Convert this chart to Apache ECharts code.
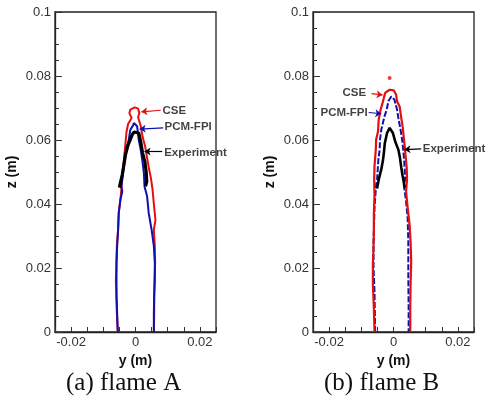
<!DOCTYPE html>
<html><head><meta charset="utf-8">
<script src="https://cdn.jsdelivr.net/npm/echarts@6/dist/echarts.min.js"></script>
<style>html,body{margin:0;padding:0;background:#fff}#c{width:489px;height:400px}</style>
</head><body><div id="c"></div>
<script>
// ---- data (y [m], z [m]) ----
const cseA = [[-0.0055,0],[-0.0058,0.006],[-0.0059,0.011],[-0.0061,0.016],[-0.0059,0.0217],[-0.0058,0.0268],[-0.0054,0.032],[-0.0052,0.0373],[-0.0047,0.0413],[-0.0044,0.0445],[-0.0041,0.049],[-0.0037,0.053],[-0.0033,0.057],[-0.0028,0.0625],[-0.0023,0.065],[-0.0012,0.0669],[-0.0019,0.0684],[-0.0016,0.0695],[-0.0002,0.0702],[0.0008,0.0698],[0.0012,0.0684],[0.0008,0.0671],[0.0016,0.0645],[0.0022,0.061],[0.003,0.058],[0.0035,0.055],[0.0042,0.051],[0.0048,0.048],[0.0053,0.0445],[0.0057,0.04],[0.0062,0.035],[0.0057,0.032],[0.006,0.0268],[0.0061,0.0217],[0.0059,0.0163],[0.0058,0.011],[0.0058,0.006],[0.0057,0]];
const pcmA = [[-0.0055,0],[-0.0057,0.0059],[-0.0059,0.0111],[-0.0059,0.0163],[-0.0059,0.0216],[-0.0057,0.0268],[-0.0054,0.032],[-0.0052,0.0372],[-0.0047,0.0413],[-0.0041,0.0439],[-0.0044,0.0455],[-0.0041,0.0476],[-0.0036,0.0518],[-0.0031,0.0559],[-0.0021,0.0601],[-0.0016,0.0632],[-0.0008,0.0645],[-0.0005,0.0653],[0.0005,0.0643],[0.001,0.0601],[0.0016,0.057],[0.0021,0.0538],[0.0026,0.0497],[0.0028,0.0455],[0.0036,0.0424],[0.0041,0.0372],[0.005,0.032],[0.0057,0.0268],[0.006,0.0216],[0.006,0.0163],[0.0058,0.0111],[0.0057,0.0059],[0.0057,0]];
const expA = [[-0.005,0.0451],[-0.0047,0.0466],[-0.0041,0.0492],[-0.0036,0.0523],[-0.0031,0.0554],[-0.0023,0.0585],[-0.001,0.0617],[-0.0004,0.0625],[0.001,0.0622],[0.0016,0.0596],[0.0022,0.0559],[0.0029,0.0533],[0.0033,0.0502],[0.0035,0.0471],[0.0031,0.0455]];
const cseB = [[-0.0059,0],[-0.0061,0.0075],[-0.0064,0.0148],[-0.0064,0.021],[-0.0061,0.0304],[-0.0061,0.0367],[-0.0059,0.0429],[-0.006,0.0476],[-0.0059,0.0518],[-0.0055,0.057],[-0.0054,0.0601],[-0.0048,0.0627],[-0.0046,0.0663],[-0.004,0.0695],[-0.0034,0.0716],[-0.003,0.0731],[-0.0026,0.0747],[-0.0012,0.0757],[0.0001,0.0755],[0.0008,0.0742],[0.0011,0.0721],[0.0019,0.0705],[0.0022,0.0684],[0.0025,0.0663],[0.0029,0.0638],[0.0032,0.0606],[0.0035,0.058],[0.0038,0.0545],[0.0041,0.0514],[0.0042,0.0476],[0.0039,0.0439],[0.0044,0.0388],[0.005,0.0335],[0.0053,0.0283],[0.0055,0.0221],[0.0053,0.0148],[0.0052,0.0075],[0.0052,0]];
const cseIslandB = [[-0.0012,0.0794]];
const pcmB = [[-0.0057,0],[-0.0059,0.0127],[-0.0062,0.02],[-0.0062,0.0283],[-0.0059,0.0388],[-0.0054,0.046],[-0.0051,0.0476],[-0.0049,0.0507],[-0.0047,0.0538],[-0.0043,0.057],[-0.0042,0.06],[-0.0038,0.0632],[-0.0033,0.0653],[-0.0028,0.0674],[-0.0021,0.0695],[-0.0016,0.0721],[-0.0007,0.0736],[0.0003,0.0726],[0.0011,0.0695],[0.0016,0.0663],[0.0022,0.0632],[0.0027,0.06],[0.003,0.057],[0.0033,0.0538],[0.0035,0.0507],[0.0036,0.0476],[0.0032,0.046],[0.0039,0.0408],[0.0044,0.0356],[0.0046,0.0283],[0.0046,0.0179],[0.0047,0.0075],[0.0047,0]];
const expB = [[-0.0051,0.0448],[-0.0046,0.0476],[-0.0038,0.0508],[-0.0033,0.0535],[-0.003,0.0559],[-0.0027,0.059],[-0.002,0.0622],[-0.0012,0.0638],[-0.0002,0.0622],[0.0005,0.0596],[0.0015,0.057],[0.002,0.0545],[0.0024,0.0515],[0.0028,0.049],[0.0035,0.0451]];
const xTicks = [-0.02, 0, 0.02];
const captions = ['(a) flame A', '(b) flame B'];
const annA = [{name:'CSE', text:[0.0084,0.0692], from:[0.0078,0.0693], to:[0.0018,0.0688], color:'#e41010'},
              {name:'PCM-FPI', text:[0.009,0.0642], from:[0.0086,0.0638], to:[0.0013,0.0634], color:'#1010b0'},
              {name:'Experiment', text:[0.0089,0.0561], from:[0.0083,0.0564], to:[0.0028,0.0564], color:'#000'}];
const annB = [{name:'CSE', text:[-0.0085,0.0747], from:[-0.0068,0.0745], to:[-0.0034,0.0741], color:'#e41010'},
              {name:'PCM-FPI', text:[-0.008,0.0686], from:[-0.0077,0.0686], to:[-0.0038,0.0682], color:'#1010b0'},
              {name:'Experiment', text:[0.0091,0.0572], from:[0.0086,0.0572], to:[0.0034,0.057], color:'#000'}];

const RED = '#e41010', BLUE = '#1010b0', BLACK = '#000';
const TICK = '#333';
const chart = echarts.init(document.getElementById('c'));
const grids = [{left:55, top:12, width:161, height:320}, {left:313, top:12, width:161, height:320}];
const fmt = v => String(+(+v).toFixed(4));
const xfmt = v => xTicks.some(t => Math.abs(t - v) < 1e-9) ? fmt(v) : '';
const axl = () => ({show:true, onZero:false, lineStyle:{color:'#222', width:1.3}});
const nameStyle = () => ({fontFamily:'Liberation Sans', fontWeight:'bold', fontSize:14, color:'#111'});
const lblStyle = {fontFamily:'Liberation Sans', fontSize:13, color:'#333'};

function xAxis(gi){
  return {
    gridIndex:gi, type:'value', min:-0.025, max:0.025, interval:0.005,
    name:'y (m)', nameLocation:'middle', nameGap:11, nameTextStyle:nameStyle(),
    axisLine:axl(), splitLine:{show:false},
    axisTick:{show:true, inside:true, length:5, lineStyle:{color:TICK}},
    axisLabel:Object.assign({interval:0, formatter:xfmt, margin:4}, lblStyle)
  };
}
function yAxis(gi){
  return {
    gridIndex:gi, type:'value', min:0, max:0.1, interval:0.02,
    name:'z (m)', nameLocation:'middle', nameGap:36, nameRotate:90, nameTextStyle:nameStyle(),
    axisLine:axl(), splitLine:{show:false},
    axisTick:{show:true, inside:true, length:7, lineStyle:{color:TICK}},
    minorTick:{show:true, splitNumber:4, length:4, lineStyle:{color:TICK}},
    axisLabel:Object.assign({formatter:fmt, margin:4}, lblStyle)
  };
}
function line(data, xi, yi, color, w, dash){
  return {type:'line', data, xAxisIndex:xi, yAxisIndex:yi, showSymbol:false, smooth:false, silent:true,
    lineStyle:{color, width:w, type: dash || 'solid'}, z:3};
}
function annSeries(ann, xi, yi, side){
  return ann.map((a, i) => ({
    type:'scatter', xAxisIndex:xi, yAxisIndex:yi, symbolSize:0, silent:true,
    data:[{name:a.name, value:a.text}],
    label:{show:true, formatter:'{b}', position:(side[i]), distance:0,
      fontFamily:'Liberation Sans', fontWeight:'bold', fontSize:11.5, color:'#111'},
    markLine:{silent:true, animation:false, symbol:['none','arrow'], symbolSize:[6,6],
      lineStyle:{color:a.color, width:1.2, type:'solid'}, label:{show:false},
      data:[[{coord:a.from},{coord:a.to}]]},
    z:5
  }));
}

chart.setOption({
  animation:false,
  backgroundColor:'#fff',
  grid: grids.map(g => Object.assign({show:true, borderColor:'#222', borderWidth:1.3}, g)),
  xAxis: [xAxis(0), xAxis(1)],
  yAxis: [yAxis(0), yAxis(1)],
  series: [
    line(cseA, 0, 0, RED, 2),
    line(pcmA, 0, 0, BLUE, 2),
    line(expA, 0, 0, BLACK, 3.2),
    line(pcmB, 1, 1, BLUE, 2, [6,2]),
    line(cseB, 1, 1, RED, 2.2),
    {type:'scatter', data:cseIslandB, xAxisIndex:1, yAxisIndex:1, symbolSize:4, itemStyle:{color:RED}, silent:true},
    line(expB, 1, 1, BLACK, 2.6),
    ...annSeries(annA, 0, 0, ['right','right','right']),
    ...annSeries(annB, 1, 1, ['left','left','right'])
  ],
  graphic: captions.map((t, i) => ({
    type:'text', left: i === 0 ? 66 : 324, top: 371,
    style:{text:t, font:'25px "Liberation Serif"', fill:'#111'}
  }))
});
</script></body></html>
